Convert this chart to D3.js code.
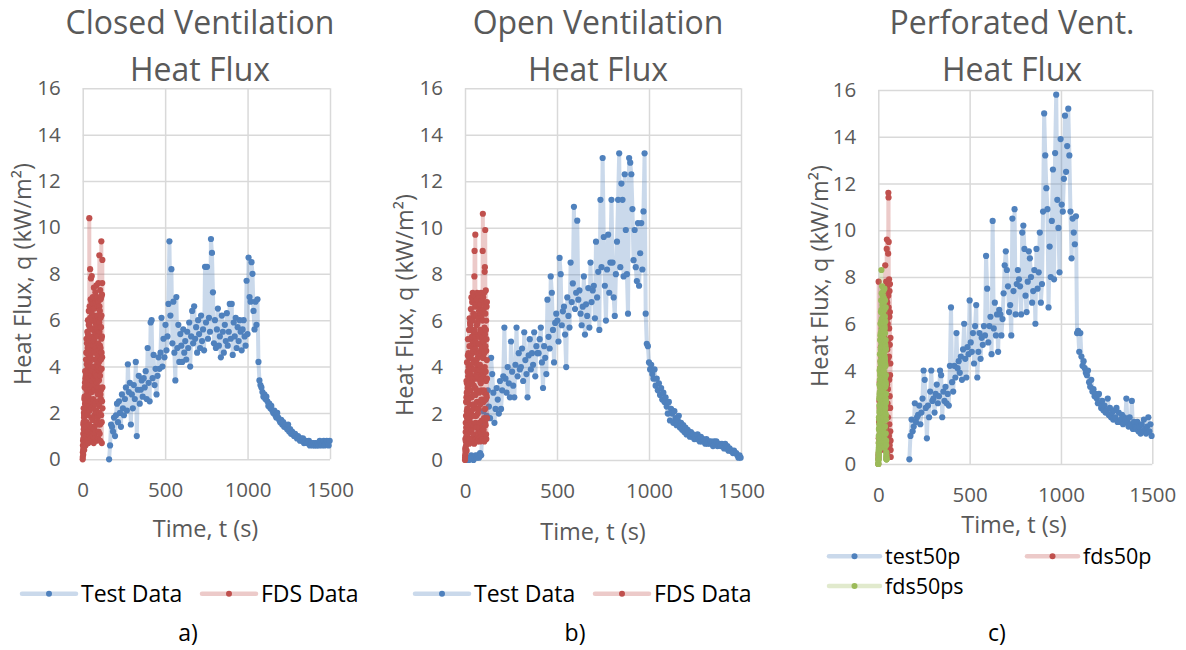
<!DOCTYPE html>
<html><head><meta charset="utf-8">
<script src="https://cdn.jsdelivr.net/npm/d3@7"></script>
<style>body{margin:0;background:#fff}svg{display:block}text{font-family:"Open Sans",sans-serif}</style>
</head><body><svg id="chart" width="1186" height="650"></svg>
<script>
// ---------- DATA ----------
const xTicks = [0, 500, 1000, 1500];
const yTicks = [0, 2, 4, 6, 8, 10, 12, 14, 16];

// Closed ventilation
const closedTestStart = 160, closedTestStep = 6;
const closedTest = [0.0,0.6,1.5,1.4,1.2,1.8,1.0,1.9,2.4,1.6,2.5,2.0,1.4,2.8,2.2,1.9,2.6,3.1,2.1,4.1,2.9,3.3,1.5,2.8,2.2,3.2,2.6,4.2,1.0,3.0,
3.6,2.4,3.0,3.4,2.7,3.5,3.1,3.8,2.6,4.8,3.3,2.5,5.9,6.0,3.5,4.5,3.2,3.9,2.8,3.6,4.4,3.9,4.6,6.1,4.0,5.2,4.4,5.8,4.7,5.3,
6.7,9.4,6.2,8.2,5.0,6.8,4.6,3.4,7.0,4.8,5.8,4.2,5.4,4.9,4.2,5.6,4.6,5.1,4.3,5.5,4.8,5.9,4.0,5.3,6.4,5.0,6.6,5.2,5.7,4.6,
6.0,5.4,4.8,6.2,5.1,5.6,4.7,8.3,5.9,8.3,5.2,6.1,5.5,9.5,8.9,7.2,5.0,6.0,4.8,5.6,6.5,4.9,5.3,4.4,6.2,5.5,4.6,5.8,5.1,6.3,
4.9,5.5,6.7,5.2,6.7,4.5,5.9,5.3,6.1,4.8,5.7,5.1,6.0,5.5,4.7,5.6,6.0,5.3,4.9,7.7,5.4,8.7,7.0,6.8,8.5,8.0,6.4,5.6,6.8,5.8,
6.9,4.2,3.4,3.2,3.1,2.9,2.7,2.8,2.6,2.7,2.5,2.3,2.4,2.2,2.3,2.1,2.0,2.1,1.9,1.8,2.0,1.8,1.7,1.6,1.7,1.5,1.6,1.4,1.5,1.4,
1.3,1.5,1.2,1.3,1.1,1.2,1.1,1.0,1.1,1.0,0.9,1.0,0.9,0.8,0.9,0.8,0.9,0.7,0.8,0.8,0.7,0.7,0.8,0.6,0.7,0.7,0.6,0.7,0.6,0.7,
0.6,0.7,0.6,0.8,0.7,0.6,0.7,0.8,0.6,0.7,0.8,0.7,0.6,0.8];
const closedFdsStart = 0, closedFdsStep = 0.5;
const closedFds = [0.0,0.1,0.3,0.6,0.8,0.4,0.2,1.1,1.5,0.9,0.5,1.6,2.2,1.3,0.9,2.0,1.8,0.7,0.4,1.9,
2.6,1.4,1.1,2.7,3.1,1.9,0.7,3.3,2.4,1.0,3.8,2.6,1.3,3.5,0.6,2.2,3.4,1.2,2.0,3.6,
4.3,2.5,0.9,4.6,3.7,1.4,5.2,3.0,1.6,4.1,2.8,5.0,4.6,1.1,0.8,3.3,5.5,2.0,2.3,4.8,
3.9,1.9,1.2,5.4,6.0,2.2,4.1,3.0,0.7,4.5,5.3,1.2,2.7,5.8,6.4,3.5,1.5,5.1,4.8,2.3,
10.4,4.0,3.2,5.9,6.6,2.1,1.0,4.2,5.7,3.0,8.2,6.1,2.5,1.3,4.4,6.4,6.9,3.8,0.9,5.6,
7.8,4.6,3.6,1.4,5.1,6.8,1.8,3.9,6.3,2.2,7.9,5.0,2.9,1.1,4.7,6.0,0.8,3.2,6.1,4.9,
3.4,1.7,7.0,5.3,1.4,3.8,5.6,6.5,2.6,1.0,6.7,4.9,4.0,2.3,0.7,5.1,7.4,3.5,3.0,6.2,
5.2,1.3,1.9,4.6,6.5,3.0,4.3,1.1,0.9,5.5,5.9,3.6,2.4,6.9,7.2,2.0,3.7,4.8,1.2,5.7,
6.8,3.2,4.9,1.5,2.1,6.0,7.5,4.3,0.8,3.6,5.4,2.0,3.3,6.9,6.2,4.1,1.6,2.9,7.0,5.6,
4.5,1.8,2.8,5.3,6.6,3.9,0.9,2.5,5.0,6.8,7.6,4.0,3.1,1.2,1.5,4.7,6.0,3.4,4.2,1.9,
2.3,5.9,8.8,6.6,5.5,2.0,1.1,3.8,6.4,4.9,3.6,1.5,7.3,5.7,0.8,2.8,4.8,6.1,6.9,3.9,
2.6,4.3,5.7,3.0,1.9,7.0,9.4,5.2,6.2,4.6,3.9,1.6,0.7,5.3,7.1,2.5,4.4,7.6,8.6,3.1,
2.2];

// Open ventilation
const openTestStart = 10, openTestStep = 6;
const openTest = [0.0,0.1,0.0,0.1,0.2,0.1,0.0,0.1,0.2,0.1,0.2,0.1,0.3,0.2,
1.2,2.1,1.6,2.6,1.9,3.0,2.3,1.8,4.4,3.7,2.9,1.6,2.2,3.1,2.6,2.0,3.4,2.2,3.0,3.6,5.7,3.5,2.9,4.0,3.3,2.7,
5.1,3.8,3.2,2.7,4.1,5.7,3.6,4.6,3.9,4.0,4.8,3.4,5.5,4.3,3.7,2.7,4.5,5.2,3.9,4.6,4.1,5.5,3.6,4.9,4.6,
4.6,5.2,5.7,4.2,3.1,4.9,4.4,3.7,6.9,5.3,4.8,7.9,7.2,5.6,4.2,5.9,6.3,6.0,5.1,8.7,8.0,5.8,6.4,6.6,5.4,
4.0,7.0,6.2,5.7,8.5,6.8,7.6,10.9,6.5,7.2,10.3,6.9,7.3,6.3,5.8,6.6,7.9,5.4,6.7,6.2,7.4,5.7,8.5,6.8,7.3,
7.5,6.1,9.4,7.0,8.1,5.6,11.2,8.3,13.0,9.6,7.5,6.0,8.2,9.7,7.2,8.5,11.2,8.5,7.0,6.2,8.0,9.4,11.2,13.2,8.3,
11.9,11.2,7.9,12.3,9.9,8.0,6.3,13.0,12.8,12.3,10.8,8.6,9.9,8.3,7.7,10.2,7.5,8.9,10.2,8.2,10.7,13.2,6.3,5.0,4.9,4.2,
3.9,4.1,3.7,3.5,3.9,3.2,3.5,3.0,3.3,2.8,3.1,2.6,2.9,2.5,2.7,2.3,2.0,2.5,1.7,2.2,2.0,1.6,2.1,1.8,1.5,1.7,1.9,1.4,1.6,1.3,
1.5,1.2,1.4,1.1,1.3,1.2,1.0,1.2,1.0,1.1,0.9,1.0,0.9,1.1,0.9,0.8,1.0,0.8,0.9,0.8,0.7,0.9,0.7,0.8,0.7,0.8,0.7,0.6,0.8,0.7,
0.8,0.6,0.7,0.7,0.6,0.7,0.6,0.5,0.7,0.5,0.6,0.4,0.5,0.4,0.4,0.3,0.4,0.3,0.3,0.2,0.1,0.2,0.1];
const openFdsStart = 0, openFdsStep = 0.5;
const openFds = [0.0,0.1,0.2,0.5,0.9,0.4,0.3,1.2,1.6,0.8,0.6,1.9,2.5,1.4,1.0,2.7,3.4,1.6,0.4,2.9,
2.1,3.3,4.2,1.8,0.8,2.2,2.9,1.1,1.5,3.1,3.8,4.5,5.2,2.7,0.9,3.6,2.6,1.5,4.6,3.2,
1.3,4.0,3.5,2.1,5.6,4.4,0.7,2.0,2.4,4.9,6.1,3.3,1.8,0.9,4.4,5.9,0.9,3.7,5.8,4.1,
3.0,1.6,1.2,4.5,6.5,5.2,4.0,2.0,0.8,3.9,7.0,5.6,2.7,1.3,5.3,6.1,1.5,3.3,6.8,4.6,
3.6,1.9,0.9,5.0,7.2,6.0,4.7,2.8,2.2,4.3,6.3,3.5,1.1,2.4,5.5,6.9,3.2,1.5,7.1,4.9,
0.7,3.9,7.9,6.2,9.0,5.6,4.2,2.3,1.9,4.8,6.6,5.3,9.7,3.1,2.8,1.6,5.1,6.7,0.9,3.5,
7.0,5.0,3.7,1.9,6.2,4.3,1.4,3.0,5.8,6.9,2.5,4.1,7.2,3.6,0.8,2.2,4.6,5.9,6.9,4.4,
2.0,1.0,5.4,3.8,1.2,6.1,7.1,5.0,3.9,2.2,0.9,4.5,6.4,5.3,2.9,1.4,5.0,6.6,1.6,3.9,
7.0,4.6,4.1,2.5,0.8,3.4,6.7,5.5,2.4,1.2,5.6,6.3,3.3,4.7,7.2,3.0,1.0,2.6,4.8,6.4,
6.1,3.6,1.7,4.9,6.9,5.2,3.5,1.4,0.9,3.8,5.3,6.0,9.0,4.4,10.6,6.4,2.6,1.3,7.0,5.5,
4.4,2.5,1.3,3.7,6.5,5.1,3.0,1.8,7.2,4.6,0.8,2.9,5.7,6.7,8.1,4.0,8.3,5.4,2.2,1.6,
9.9,6.3,4.9,2.6,1.5,3.8,7.3,5.6,3.4,1.1,6.0,4.7,0.9,2.8,5.2,6.6,2.7,4.3,6.8,3.5,
1.8];

// Perforated vent
const perfTestStart = 170, perfTestStep = 6;
const perfTest = [0.2,1.2,1.9,1.4,1.6,2.6,1.8,2.0,2.1,2.5,1.7,2.2,2.8,4.0,3.6,2.4,1.1,2.5,2.0,3.1,4.0,2.7,2.8,2.2,3.0,3.4,2.6,2.9,4.0,3.8,
2.0,3.1,2.7,3.3,2.6,3.0,2.5,4.2,6.7,3.5,3.1,4.2,3.7,5.6,4.1,4.4,3.9,4.6,3.6,4.9,6.0,4.5,3.7,5.0,4.7,7.0,5.2,4.8,5.6,4.3,
5.9,6.8,3.7,4.8,5.6,4.5,5.4,5.1,5.9,5.5,8.9,7.5,5.2,5.9,6.3,4.7,10.4,5.8,6.9,5.5,6.4,4.8,6.6,6.4,5.5,6.2,7.3,8.5,9.1,8.3,
7.6,6.5,6.8,5.5,10.5,7.4,10.9,6.4,7.7,8.3,7.9,7.6,6.4,9.9,10.2,9.2,7.2,6.5,7.8,9.1,8.8,8.0,6.9,7.4,8.3,6.0,9.2,7.5,8.2,9.9,
6.9,7.7,10.8,15.0,13.2,11.8,10.9,6.7,9.3,8.0,10.4,12.6,7.9,13.3,15.8,11.3,10.1,8.2,13.9,11.1,10.8,12.2,14.9,12.5,13.6,15.2,13.2,10.8,8.8,10.5,
9.9,9.4,10.6,5.6,5.7,4.8,5.6,4.6,4.2,4.4,4.1,3.9,3.8,4.0,3.5,3.3,3.6,3.1,3.2,2.9,3.0,2.8,2.6,3.0,2.6,2.4,2.7,2.3,2.5,2.2,
2.3,2.8,2.1,2.4,2.0,2.2,1.9,2.3,2.0,2.4,1.8,2.2,1.8,1.9,2.1,1.7,2.0,1.9,2.8,1.8,1.6,2.0,1.7,2.7,1.5,1.8,1.6,1.5,1.8,1.4,
1.6,1.3,1.7,1.4,1.9,1.5,1.3,1.6,2.0,1.4,1.7,1.2];
const perfFdsStart = 0, perfFdsStep = 0.5;
const perfFds = [0.0,0.2,0.4,0.3,7.8,1.1,0.9,0.5,1.8,1.2,0.6,1.9,2.7,1.5,1.2,2.4,3.5,1.8,0.8,2.9,
2.2,3.3,4.1,1.6,1.0,2.6,3.0,4.4,5.0,2.3,0.7,3.5,2.5,1.4,4.6,3.2,1.4,4.9,5.8,2.8,
0.9,4.2,3.6,1.3,6.2,4.8,1.7,2.9,4.4,5.6,0.8,3.4,5.5,6.1,2.9,1.1,6.8,4.2,1.2,3.9,
4.8,2.3,7.1,5.5,0.6,2.1,3.8,5.8,6.0,3.3,2.1,1.2,7.4,5.0,1.0,3.4,8.5,6.6,4.2,2.0,
0.7,3.1,6.5,7.4,2.8,1.6,7.8,5.9,1.5,3.8,5.2,7.0,9.2,4.4,9.6,6.2,3.4,1.3,6.9,4.9,
0.5,2.6,7.6,6.0,4.5,3.2,2.0,5.3,9.0,7.2,11.6,3.7,11.4,6.7,9.5,2.4,1.2,4.6,7.9,5.8,
3.6,1.7,6.3,7.4,0.8,2.9,5.1,6.5,7.7,3.8,2.4,1.4,4.3,5.4,1.0,0.6,0.3];
const perfFdsSStart = 0, perfFdsSStep = 0.25;
const perfFdsS = [0.0,0.0,0.1,0.2,0.3,0.5,0.2,0.4,0.6,0.9,1.2,0.7,0.4,1.5,2.0,1.1,0.8,1.9,1.5,0.6,
2.8,1.7,0.6,2.5,3.4,2.2,1.1,3.0,2.3,1.4,4.0,2.9,0.9,3.6,3.1,2.0,4.7,3.3,1.6,4.1,
5.3,3.8,2.5,1.2,0.7,3.9,4.4,5.5,6.0,2.6,1.8,4.3,3.6,1.0,5.6,4.9,0.9,3.4,6.5,5.0,
2.9,1.7,4.8,6.1,7.0,3.5,1.3,5.7,8.3,6.6,5.2,2.4,3.3,4.6,7.3,5.9,0.8,3.9,6.2,2.8,
4.1,1.5,2.2,6.0,7.6,5.3,5.0,2.9,1.2,4.4,6.8,5.5,3.7,1.8,0.9,4.6,5.9,6.6,7.2,3.1,
2.6,1.4,4.5,5.8,6.4,2.7,1.5,4.9,7.4,6.2,3.2,1.9,5.4,4.1,0.8,3.6,6.9,5.7,4.0,2.2,
2.0,4.3,7.1,6.3,5.7,2.6,1.1,3.4,3.8,5.2,6.6,4.8,2.7,1.0,7.5,5.9,4.6,2.4,0.7,3.3,
5.8,4.4,3.0,1.9,6.3,4.5,1.6,3.7,7.0,5.6,4.3,2.2,2.4,5.1,6.1,3.3,0.9,2.8,5.0,4.2,
3.5,5.3,6.7,2.6,1.3,3.4,4.9,3.8,2.1,2.7,3.0,1.9,1.0,0.8,0.5,0.4,0.3,0.3,0.2,0.2,
0.2];

// ---------- COLORS / LAYOUT ----------
const BLUE = "#4F81BD", RED = "#C0504D", GREEN = "#9BBB59";
const GRID = "#d9d9d9", TXT = "#595959";

function series(start, step, vals) { return vals.map((q, i) => ({ t: start + i * step, q })); }

const panels = [
  { x0: 82.7, x1: 330, yB: 459.3, yT: 88.3, title: ["Closed Ventilation", "Heat Flux"], titleX: 200,
    yLab: [31, 274], xLab: [205.5, 537], tag: ["a)", 188],
    data: [
      { name: "Test Data", color: BLUE, pts: series(closedTestStart, closedTestStep, closedTest) },
      { name: "FDS Data", color: RED, pts: series(closedFdsStart, closedFdsStep, closedFds) }],
    legend: { fs: 23, len: 54, items: [[22, 593.7], [202, 593.7]] } },
  { x0: 465, x1: 741, yB: 460, yT: 88.3, title: ["Open Ventilation", "Heat Flux"], titleX: 598,
    yLab: [413, 305], xLab: [593, 540], tag: ["b)", 575],
    data: [
      { name: "Test Data", color: BLUE, pts: series(openTestStart, openTestStep, openTest) },
      { name: "FDS Data", color: RED, pts: series(openFdsStart, openFdsStep, openFds) }],
    legend: { fs: 23, len: 54, items: [[415, 593.7], [595, 593.7]] } },
  { x0: 878.3, x1: 1152.3, yB: 464, yT: 90, title: ["Perforated Vent.", "Heat Flux"], titleX: 1012,
    yLab: [828, 276], xLab: [1014, 533], tag: ["c)", 997],
    data: [
      { name: "test50p", color: BLUE, pts: series(perfTestStart, perfTestStep, perfTest) },
      { name: "fds50p", color: RED, pts: series(perfFdsStart, perfFdsStep, perfFds) },
      { name: "fds50ps", color: GREEN, pts: series(perfFdsSStart, perfFdsSStep, perfFdsS) }],
    legend: { fs: 21.5, len: 51, items: [[829, 556.3], [1027, 556.3], [829, 586]] } }
];

const svg = d3.select("#chart");

panels.forEach(p => {
  const x = d3.scaleLinear().domain([0, 1500]).range([p.x0, p.x1]);
  const y = d3.scaleLinear().domain([0, 16]).range([p.yB, p.yT]);
  const g = svg.append("g");

  const ya = g.append("g").attr("transform", `translate(${p.x0},0)`)
    .call(d3.axisLeft(y).tickValues(yTicks).tickSize(-(p.x1 - p.x0)).tickPadding(22).tickFormat(d3.format("d")));
  ya.select(".domain").remove();
  ya.selectAll("line").attr("stroke", GRID).attr("stroke-width", 1.5);
  ya.selectAll("text").attr("fill", TXT).style("font-size", "20.5px");

  const xa = g.append("g").attr("transform", `translate(0,${p.yB})`)
    .call(d3.axisBottom(x).tickValues(xTicks).tickSize(-(p.yB - p.yT)).tickPadding(23).tickFormat(d3.format("d")));
  xa.select(".domain").remove();
  xa.selectAll("line").attr("stroke", GRID).attr("stroke-width", 1.5);
  xa.selectAll("text").attr("fill", TXT).style("font-size", "20.5px");

  const line = d3.line().x(d => x(d.t)).y(d => y(d.q));
  p.data.forEach(s => {
    g.append("path").datum(s.pts).attr("d", line)
      .attr("fill", "none").attr("stroke", s.color).attr("stroke-opacity", 0.3)
      .attr("stroke-width", 4).attr("stroke-linejoin", "round").attr("stroke-linecap", "round");
    g.append("g").selectAll("circle").data(s.pts).join("circle")
      .attr("cx", d => x(d.t)).attr("cy", d => y(d.q)).attr("r", 3.1).attr("fill", s.color);
  });

  g.append("text").attr("x", p.titleX).attr("y", 34).attr("text-anchor", "middle")
    .attr("fill", TXT).style("font-size", "32px").text(p.title[0]);
  g.append("text").attr("x", p.titleX).attr("y", 81).attr("text-anchor", "middle")
    .attr("fill", TXT).style("font-size", "32px").text(p.title[1]);

  g.append("text").attr("transform", `translate(${p.yLab[0]},${p.yLab[1]}) rotate(-90)`)
    .attr("text-anchor", "middle").attr("fill", TXT).style("font-size", "23.5px").text("Heat Flux, q (kW/m²)");
  g.append("text").attr("x", p.xLab[0]).attr("y", p.xLab[1]).attr("text-anchor", "middle")
    .attr("fill", TXT).style("font-size", "23.5px").text("Time, t (s)");

  p.data.forEach((s, i) => {
    const [lx, ly] = p.legend.items[i];
    const L = p.legend.len;
    g.append("line").attr("x1", lx).attr("x2", lx + L).attr("y1", ly).attr("y2", ly)
      .attr("stroke", s.color).attr("stroke-opacity", 0.3).attr("stroke-width", 4.5).attr("stroke-linecap", "round");
    g.append("circle").attr("cx", lx + L / 2).attr("cy", ly).attr("r", 3).attr("fill", s.color);
    g.append("text").attr("x", lx + L + 5).attr("y", ly).attr("dy", "0.35em")
      .attr("fill", "#000").style("font-size", p.legend.fs + "px").text(s.name);
  });

  g.append("text").attr("x", p.tag[1]).attr("y", 641).attr("text-anchor", "middle")
    .attr("fill", "#000").style("font-size", "23px").text(p.tag[0]);
});
</script>
</body></html>
